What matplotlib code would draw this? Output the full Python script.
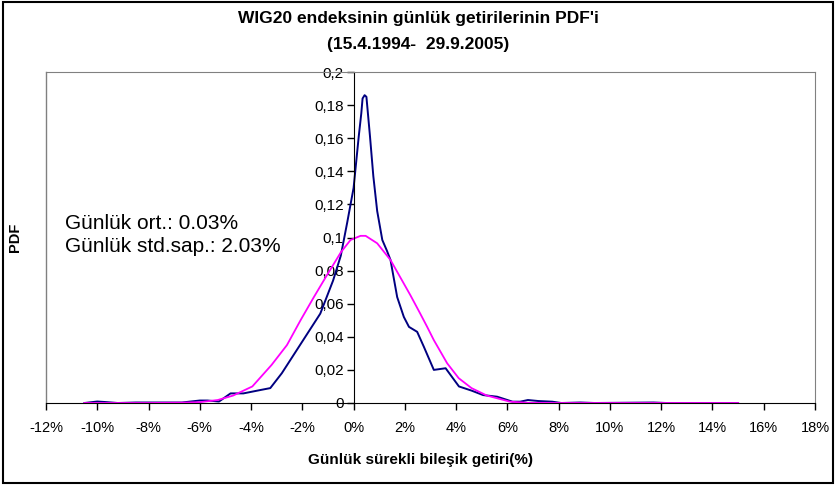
import matplotlib
matplotlib.use("Agg")
import matplotlib.pyplot as plt
from matplotlib.ticker import FuncFormatter, MultipleLocator
from matplotlib.patches import Rectangle

plt.rcParams['font.family'] = ['Liberation Sans', 'DejaVu Sans']

# empirical density (blue), x in %
emp_x = [-10.5, -10.0, -9.7, -9.2, -8.5, -7.5, -6.7, -6.0, -5.7, -5.25, -4.8, -4.3,
         -3.65, -3.25, -2.8, -2.3, -1.8, -1.3, -0.8, -0.5, -0.25, 0.0, 0.2, 0.3,
         0.35, 0.43, 0.5, 0.64, 0.77, 0.92, 1.12, 1.3, 1.44, 1.7, 1.96, 2.16, 2.48,
         2.74, 3.13, 3.59, 4.11, 4.6, 5.05, 5.6, 6.2, 6.5, 6.8, 7.2, 7.75, 8.1,
         8.85, 9.4, 11.7, 12.2, 15.0]
emp_y = [0, 0.0009, 0.0006, 0, 0.0003, 0.0003, 0.0003, 0.0015, 0.0015, 0.0009,
         0.0058, 0.0058, 0.0078, 0.009, 0.018, 0.030, 0.042, 0.054, 0.074, 0.089,
         0.109, 0.130, 0.161, 0.175, 0.184, 0.186, 0.185, 0.161, 0.137, 0.116,
         0.0985, 0.092, 0.0864, 0.064, 0.052, 0.046, 0.043, 0.034, 0.020, 0.021,
         0.010, 0.0075, 0.0048, 0.0038, 0.0008, 0.0008, 0.0018, 0.0012, 0.0008, 0,
         0.0003, 0, 0.0003, 0, 0]

# normal density (magenta)
norm_x = [-10.5, -8.0, -6.7, -6.0, -5.3, -4.7, -3.95, -3.2, -2.6, -2.07, -1.55,
          -1.05, -0.5, -0.12, 0.27, 0.47, 0.92, 1.44, 2.22, 2.6, 2.87, 3.13, 3.65,
          4.1, 4.6, 5.2, 6.1, 6.8, 8.0, 15.0]
norm_y = [0, 0, 0.0002, 0.0005, 0.0018, 0.0045, 0.010, 0.023, 0.035, 0.050, 0.064,
          0.077, 0.091, 0.0985, 0.101, 0.101, 0.0965, 0.0864, 0.065, 0.054, 0.046,
          0.038, 0.024, 0.015, 0.009, 0.0045, 0.0008, 0.0001, 0, 0]

title1 = "WIG20 endeksinin günlük getirilerinin PDF'i"
title2 = "(15.4.1994-  29.9.2005)"
stat1 = "Günlük ort.: 0.03%"
stat2 = "Günlük std.sap.: 2.03%"
xlab = "Günlük sürekli bileşik getiri(%)"
ylab = "PDF"

fig = plt.figure(figsize=(8.36, 4.87), dpi=100)
ax = fig.add_axes([46/836, 84/487, 769/836, 331/487])

ax.plot(emp_x, emp_y, color='#000080', lw=1.4)
ax.plot(norm_x, norm_y, color='#FF00FF', lw=1.3)

ax.set_xlim(-12, 18)
ax.set_ylim(0, 0.2)
ax.xaxis.set_major_locator(MultipleLocator(2))
ax.yaxis.set_major_locator(MultipleLocator(0.02))
ax.xaxis.set_major_formatter(FuncFormatter(lambda v, p: '%d%%' % round(v)))
ax.yaxis.set_major_formatter(FuncFormatter(lambda v, p: ('%g' % round(v, 2)).replace('.', ',')))

ax.spines['left'].set_position(('data', 0))
ax.spines['left'].set_color('black')
ax.spines['bottom'].set_color('black')
ax.spines['top'].set_color('#808080')
ax.spines['right'].set_color('#808080')
ax.axvline(-12, color='#808080', lw=1, clip_on=False)
ax.tick_params(axis='both', direction='out', length=5, width=1, colors='black')
ax.tick_params(axis='x', pad=8, labelsize=10.5)
ax.tick_params(axis='y', pad=2, labelsize=11)

fig.text(0.5, 1 - 18/487, title1, ha='center', va='center', fontsize=12.5, fontweight='bold')
fig.text(0.5, 1 - 45/487, title2, ha='center', va='center', fontsize=12.5, fontweight='bold')
fig.text(65/836, 1 - 224/487, stat1, ha='left', va='center', fontsize=15)
fig.text(65/836, 1 - 247/487, stat2, ha='left', va='center', fontsize=15)
fig.text(421/836, 1 - 460/487, xlab, ha='center', va='center', fontsize=11, fontweight='bold')
fig.text(15/836, 1 - 237/487, ylab, ha='center', va='center', fontsize=10.5, fontweight='bold', rotation=90)

fig.patches.append(Rectangle((3/836, 4/487), 830/836, 481/487, transform=fig.transFigure,
                             fill=False, edgecolor='black', lw=1.5))

fig.savefig('out.png', dpi=100)
